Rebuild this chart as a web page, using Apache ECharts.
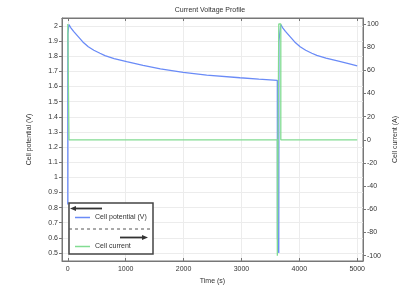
<!DOCTYPE html>
<html>
<head>
<meta charset="utf-8">
<script src="https://cdn.jsdelivr.net/npm/echarts@6/dist/echarts.min.js"></script>
<style>html,body{margin:0;padding:0;background:#fff}#c{width:420px;height:290px}</style>
</head>
<body>
<div id="c"></div>
<script>
// ---- data ----
var chartTitle = 'Current Voltage Profile';
var xName = 'Time (s)';
var leftName = 'Cell potential (V)';
var rightName = 'Cell current (A)';
var seriesNames = ['Cell potential (V)', 'Cell current'];

var potentialTime = [0, 1, 20, 50, 100, 180, 260, 354, 450, 556, 642, 800, 1017, 1300, 1600, 1995, 2400, 2974, 3300, 3620,
  3622, 3645, 3647, 3680, 3710, 3760, 3840, 3920, 4014, 4110, 4216, 4302, 4460, 4677, 4850, 5000];
var potentialValue = [0.82, 1.95, 2.01, 1.99, 1.965, 1.93, 1.895, 1.863, 1.84, 1.82, 1.804, 1.785, 1.764, 1.74, 1.717, 1.694, 1.676, 1.658, 1.649, 1.641,
  0.6, 0.5, 1.9, 2.01, 1.99, 1.965, 1.93, 1.895, 1.863, 1.84, 1.82, 1.806, 1.788, 1.768, 1.752, 1.737];

var currentTime = [0, 20, 20, 3620, 3620, 3645, 3645, 3680, 3680, 5000];
var currentValue = [100, 100, 0, 0, -100, -100, 100, 100, 0, 0];

function pairs(xs, ys) { return xs.map(function (x, i) { return [x, ys[i]]; }); }
function plain(v) { return String(Math.round(v * 1000) / 1000); }

var FONT = 'Liberation Sans';
var TXT = '#333';
var AX = '#777';

var chart = echarts.init(document.getElementById('c'), null, { renderer: 'canvas' });
var option = {
  animation: false,
  backgroundColor: '#fff',
  textStyle: { fontFamily: FONT },
  title: { text: chartTitle, left: 'center', top: 7, padding: 0,
    textStyle: { fontSize: 7, fontWeight: 'normal', color: TXT, fontFamily: FONT } },
  grid: { left: 62, right: 57, top: 18, bottom: 29, show: true, borderColor: AX, borderWidth: 1 },
  legend: [
    { data: [seriesNames[0]], left: 75, top: 214, padding: 0, icon: 'rect', itemWidth: 15, itemHeight: 1.5,
      selectedMode: false, z: 20, textStyle: { fontSize: 7, color: TXT, fontFamily: FONT } },
    { data: [seriesNames[1]], left: 75, top: 243, padding: 0, icon: 'rect', itemWidth: 15, itemHeight: 1.5,
      selectedMode: false, z: 20, textStyle: { fontSize: 7, color: TXT, fontFamily: FONT } }
  ],
  xAxis: [
    { type: 'value', min: -100, max: 5100, splitNumber: 5, position: 'bottom',
      name: xName, nameLocation: 'middle', nameGap: 9,
      nameTextStyle: { fontSize: 7, color: TXT, fontFamily: FONT },
      axisLine: { show: true, onZero: false, lineStyle: { color: AX } },
      axisTick: { show: true, inside: true, length: 3, lineStyle: { color: AX } },
      axisLabel: { showMinLabel: false, showMaxLabel: false, fontSize: 7, color: TXT, margin: 5, fontFamily: FONT, formatter: plain },
      splitLine: { show: true, lineStyle: { color: '#ececec' } } },
    { type: 'value', min: -100, max: 5100, splitNumber: 5, position: 'top',
      axisLine: { show: true, onZero: false, lineStyle: { color: AX } },
      axisTick: { show: true, inside: true, length: 3, lineStyle: { color: AX } },
      axisLabel: { show: false }, splitLine: { show: false } }
  ],
  yAxis: [
    { type: 'value', min: 0.447, max: 2.053, splitNumber: 16, position: 'left',
      name: leftName, nameLocation: 'middle', nameGap: 29,
      nameTextStyle: { fontSize: 7, color: TXT, fontFamily: FONT },
      axisLine: { show: true, onZero: false, lineStyle: { color: AX } },
      axisTick: { show: true, inside: false, length: 3, lineStyle: { color: AX } },
      axisLabel: { showMinLabel: false, showMaxLabel: false, fontSize: 7, color: TXT, margin: 4, fontFamily: FONT, formatter: plain },
      splitLine: { show: true, lineStyle: { color: '#ececec' } } },
    { type: 'value', min: -104.6, max: 105.2, splitNumber: 10, position: 'right',
      name: rightName, nameLocation: 'middle', nameGap: 28,
      nameTextStyle: { fontSize: 7, color: TXT, fontFamily: FONT },
      axisLine: { show: true, onZero: false, lineStyle: { color: AX } },
      axisTick: { show: true, inside: false, length: 3, lineStyle: { color: AX } },
      axisLabel: { showMinLabel: false, showMaxLabel: false, fontSize: 7, color: TXT, margin: 4, fontFamily: FONT, formatter: plain },
      splitLine: { show: false } }
  ],
  series: [
    { name: seriesNames[0], type: 'line', xAxisIndex: 0, yAxisIndex: 0, data: pairs(potentialTime, potentialValue),
      showSymbol: false, symbol: 'none', color: '#6a8bf7', lineStyle: { width: 1.3, color: '#6a8bf7' }, z: 2 },
    { name: seriesNames[1], type: 'line', xAxisIndex: 0, yAxisIndex: 1, data: pairs(currentTime, currentValue),
      showSymbol: false, symbol: 'none', color: '#82dc92', lineStyle: { width: 1.3, color: '#82dc92' }, z: 3 }
  ],
  graphic: [
    { type: 'rect', z: 15, shape: { x: 69, y: 203, width: 84, height: 51 },
      style: { fill: '#fff', stroke: '#444', lineWidth: 1.5 } },
    { type: 'line', z: 25, shape: { x1: 69, y1: 229, x2: 153, y2: 229 },
      style: { stroke: '#555', lineWidth: 1, lineDash: [3, 3] } },
    { type: 'line', z: 25, shape: { x1: 75, y1: 208.5, x2: 102, y2: 208.5 },
      style: { stroke: '#333', lineWidth: 1.8 } },
    { type: 'polygon', z: 25, shape: { points: [[70, 208.5], [76, 206], [76, 211]] },
      style: { fill: '#333' } },
    { type: 'line', z: 25, shape: { x1: 120, y1: 237.5, x2: 143, y2: 237.5 },
      style: { stroke: '#333', lineWidth: 1.8 } },
    { type: 'polygon', z: 25, shape: { points: [[148, 237.5], [142, 235], [142, 240]] },
      style: { fill: '#333' } }
  ]
};
chart.setOption(option);
</script>
</body>
</html>
